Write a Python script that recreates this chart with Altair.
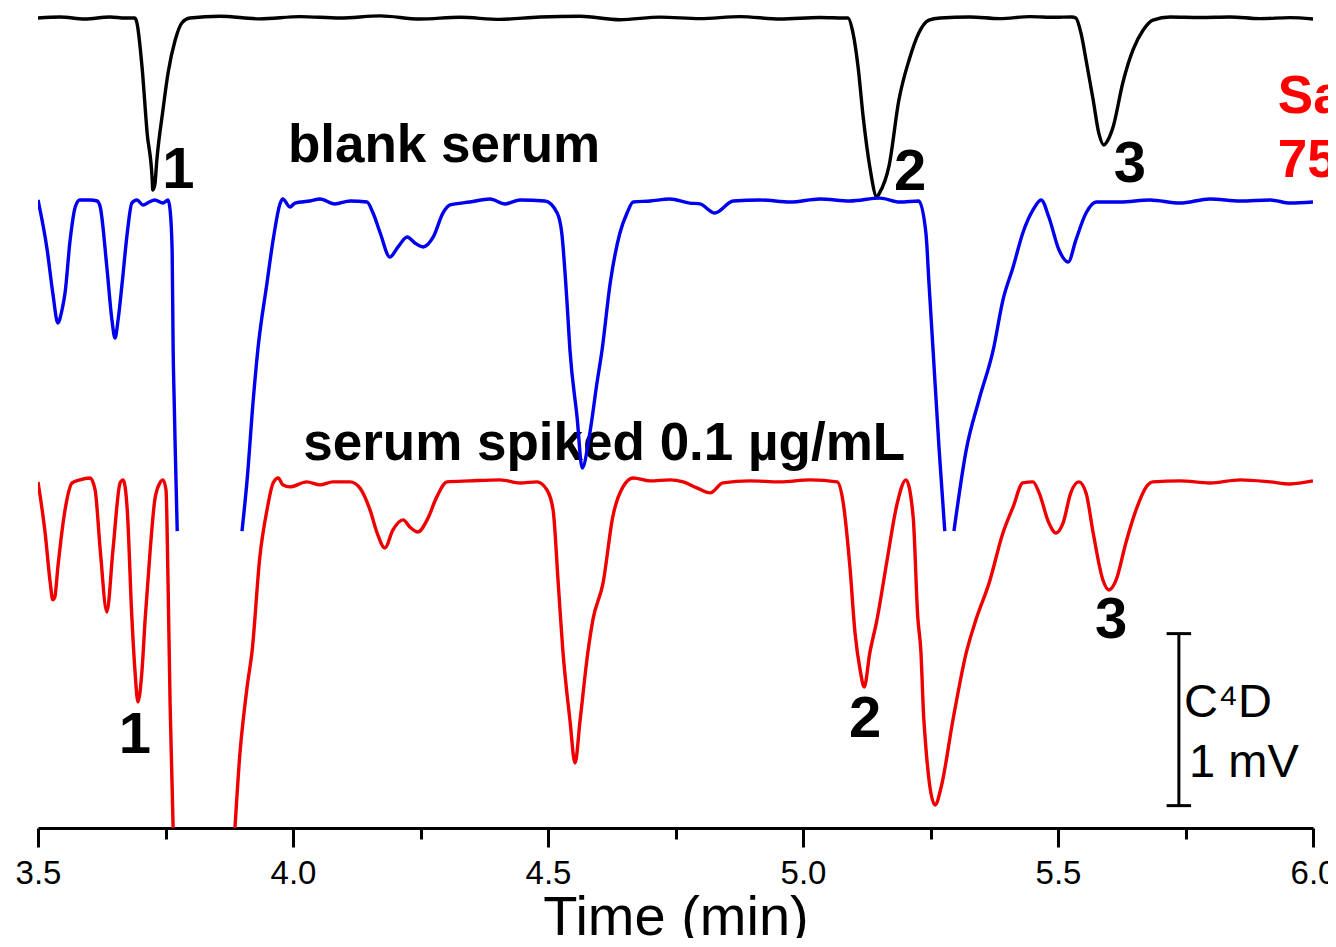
import altair as alt
import pandas as pd

# ---- trace data: (time in min, signal in mV relative to trace baseline) ----
black = [(3.500,0),(3.543,0.006),(3.592,-0.006),(3.641,0.006),(3.671,0),(3.690,0),(3.694,-0.029),
         (3.704,-0.285),(3.714,-0.669),(3.724,-0.942),(3.725,-1.000),(3.729,-0.971),(3.733,-0.826),
         (3.745,-0.535),(3.755,-0.320),(3.769,-0.128),(3.782,-0.029),(3.798,0),(3.857,0.010),
         (3.935,-0.005),(4.014,0.008),(4.092,0),(4.171,0.012),(4.249,-0.006),(4.327,0.004),
         (4.406,-0.008),(4.484,0.006),(4.563,0.010),(4.641,-0.010),(4.720,0.005),(4.798,-0.004),
         (4.876,0.008),(4.955,-0.006),(5.033,0.003),(5.082,0),(5.088,0),(5.098,-0.087),(5.108,-0.285),
         (5.118,-0.576),(5.131,-0.866),(5.145,-1.041),(5.149,-1.023),(5.169,-0.855),(5.188,-0.477),
         (5.208,-0.244),(5.227,-0.087),(5.247,-0.012),(5.269,0),(5.327,0.006),(5.386,-0.004),
         (5.445,0.008),(5.494,0.004),(5.527,0.006),(5.535,0),(5.545,-0.087),(5.555,-0.244),
         (5.569,-0.477),(5.580,-0.669),(5.590,-0.738),(5.598,-0.709),(5.608,-0.634),(5.627,-0.378),
         (5.647,-0.186),(5.667,-0.070),(5.686,-0.012),(5.720,0.006),(5.778,0.003),(5.837,0.006),
         (5.896,-0.004),(5.955,0.002),(6.000,-0.006)]

blue_a = [(3.500,0.006),(3.518,-0.285),(3.529,-0.535),(3.539,-0.709),(3.547,-0.634),(3.553,-0.535),
          (3.563,-0.227),(3.573,-0.035),(3.582,0.006),(3.602,0.006),(3.616,0),(3.622,-0.035),
          (3.635,-0.384),(3.645,-0.692),(3.651,-0.797),(3.657,-0.692),(3.665,-0.477),(3.675,-0.186),
          (3.684,-0.012),(3.694,0.006),(3.706,-0.023),(3.718,-0.006),(3.729,0.006),(3.745,-0.012),
          (3.755,0.006),(3.759,-0.052),(3.763,-0.285),(3.765,-0.866),(3.767,-1.157),(3.769,-1.430),
          (3.773,-1.919)]
blue_b = [(3.900,-1.919),(3.910,-1.622),(3.922,-1.157),(3.931,-0.866),(3.949,-0.477),(3.961,-0.227),
          (3.975,-0.012),(3.980,0.012),(3.994,-0.035),(4.004,-0.012),(4.033,0),(4.053,0.012),
          (4.082,-0.017),(4.112,0),(4.145,-0.006),(4.157,-0.070),(4.171,-0.186),(4.190,-0.326),
          (4.206,-0.267),(4.224,-0.209),(4.239,-0.244),(4.255,-0.267),(4.275,-0.209),(4.294,-0.070),
          (4.308,-0.023),(4.347,-0.006),(4.386,0.012),(4.416,-0.017),(4.445,0.006),(4.494,0),
          (4.518,-0.070),(4.527,-0.186),(4.537,-0.576),(4.543,-0.866),(4.557,-1.256),(4.567,-1.552),
          (4.582,-1.349),(4.596,-1.058),(4.606,-0.866),(4.622,-0.477),(4.641,-0.186),(4.655,-0.070),
          (4.667,-0.006),(4.700,0),(4.739,0.012),(4.778,-0.012),(4.798,-0.017),(4.827,-0.070),
          (4.863,0),(4.916,0.006),(4.975,-0.006),(5.033,0.012),(5.092,0),(5.151,0.017),(5.190,-0.006),
          (5.227,0),(5.241,-0.186),(5.247,-0.477),(5.255,-0.866),(5.267,-1.448),(5.278,-1.919)]
blue_c = [(5.296,-1.919),(5.320,-1.448),(5.345,-1.157),(5.373,-0.866),(5.392,-0.576),(5.412,-0.384),
          (5.431,-0.186),(5.451,-0.052),(5.467,0.006),(5.482,-0.093),(5.502,-0.285),(5.520,-0.355),
          (5.535,-0.227),(5.555,-0.070),(5.575,-0.006),(5.622,-0.006),(5.680,0.006),(5.739,-0.012),
          (5.798,0.012),(5.857,0),(5.916,0.006),(5.955,-0.012),(6.000,-0.006)]

red = [(3.500,0),(3.514,-0.297),(3.524,-0.587),(3.529,-0.686),(3.533,-0.669),(3.539,-0.494),
       (3.553,-0.163),(3.567,-0.006),(3.582,0.012),(3.602,0.023),(3.612,-0.047),(3.622,-0.395),
       (3.635,-0.756),(3.647,-0.395),(3.661,-0.006),(3.667,0.012),(3.675,-0.163),(3.684,-0.785),
       (3.690,-1.093),(3.696,-1.279),(3.704,-1.093),(3.710,-0.802),(3.720,-0.395),(3.729,-0.105),
       (3.739,-0.006),(3.745,0.012),(3.751,-0.047),(3.755,-0.587),(3.759,-1.285),(3.763,-1.773),
       (3.767,-2.198),(3.778,-2.430),(3.876,-2.430),(3.882,-2.198),(3.896,-1.576),(3.910,-1.192),
       (3.920,-0.977),(3.935,-0.436),(3.949,-0.163),(3.961,-0.006),(3.971,0.023),(3.980,-0.017),
       (3.994,-0.029),(4.027,0),(4.053,-0.017),(4.078,0),(4.112,0),(4.131,-0.035),(4.151,-0.163),
       (4.165,-0.297),(4.180,-0.384),(4.196,-0.279),(4.216,-0.221),(4.229,-0.262),(4.245,-0.291),
       (4.263,-0.221),(4.282,-0.087),(4.302,0),(4.347,0.006),(4.406,0.012),(4.445,-0.006),
       (4.478,0),(4.498,-0.047),(4.510,-0.163),(4.520,-0.587),(4.529,-0.977),(4.543,-1.384),
       (4.553,-1.634),(4.563,-1.384),(4.578,-0.994),(4.588,-0.802),(4.608,-0.587),(4.627,-0.203),
       (4.647,-0.029),(4.667,0.023),(4.700,0.006),(4.739,0.012),(4.765,0),(4.792,-0.035),
       (4.818,-0.064),(4.843,-0.006),(4.896,0.006),(4.955,0),(5.014,0.012),(5.067,0),(5.078,-0.105),
       (5.092,-0.494),(5.102,-0.878),(5.112,-1.093),(5.120,-1.192),(5.131,-0.994),(5.145,-0.802),
       (5.165,-0.453),(5.184,-0.134),(5.202,0.012),(5.216,-0.203),(5.225,-0.785),(5.231,-0.977),
       (5.237,-1.384),(5.259,-1.878),(5.271,-1.773),(5.294,-1.384),(5.320,-0.994),(5.339,-0.802),
       (5.365,-0.587),(5.392,-0.297),(5.412,-0.145),(5.431,-0.006),(5.451,0),(5.463,-0.064),
       (5.482,-0.238),(5.496,-0.297),(5.510,-0.238),(5.525,-0.064),(5.541,0),(5.555,-0.064),
       (5.569,-0.297),(5.588,-0.570),(5.600,-0.628),(5.614,-0.570),(5.633,-0.355),(5.653,-0.163),
       (5.673,-0.029),(5.686,0),(5.739,0.006),(5.798,-0.006),(5.857,0.012),(5.916,0),(5.955,-0.012),
       (6.000,0.006)]

# vertical offsets of the stacked traces (mV)
offsets = {"black": 4.709, "blue": 3.645, "red": 2.012}

# annotation texts (label, time, mV)
peak_labels = [("1", 3.775, 3.721), ("2", 5.210, 3.709), ("3", 5.641, 3.756),
               ("1", 3.690, 0.436), ("2", 5.122, 0.529), ("3", 5.604, 1.105)]
trace_labels = [("blank serum", 3.990, 3.872), ("serum spiked 0.1 µg/mL", 4.020, 2.140)]
red_labels = [("Sa", 5.931, 4.157), ("75", 5.931, 3.785)]
scale_labels = [("C\u2074D", 5.747, 0.645), ("1 mV", 5.757, 0.297)]
scale_bar_t = 5.737
scale_bar_mv = [0.13, 1.13]
scale_cap_t = [5.713, 5.761]

major_ticks = [3.5, 4.0, 4.5, 5.0, 5.5, 6.0]
minor_ticks = [3.75, 4.25, 4.75, 5.25, 5.75]

FONT = "Liberation Sans"
LW = 3.4


def frame(points, trace, seg):
    return pd.DataFrame({"t": [p[0] for p in points],
                         "v": [p[1] + offsets[trace] for p in points],
                         "seg": seg})


df_black = frame(black, "black", "a")
df_blue = pd.concat([frame(blue_a, "blue", "a"), frame(blue_b, "blue", "b"),
                     frame(blue_c, "blue", "c")])
df_red = frame(red, "red", "a")

xscale = alt.Scale(domain=[3.5, 6.0], nice=False, zero=False)
yscale = alt.Scale(domain=[0, 4.767], nice=False, zero=False)

major_axis = alt.Axis(
    orient="bottom", values=major_ticks, format=".1f",
    tickSize=19, tickWidth=3, tickColor="black", domainWidth=3, domainColor="black",
    labelFontSize=33, labelFont=FONT, labelColor="black", labelPadding=10,
    labelFlush=False, labelOverlap=False, grid=False,
    title="Time (min)", titleFont=FONT, titleFontSize=56, titleFontWeight="normal",
    titleColor="black", titleY=106, titleBaseline="alphabetic",
)
minor_axis = alt.Axis(
    orient="bottom", values=minor_ticks, tickSize=11, tickWidth=3, tickColor="black",
    domain=False, labels=False, grid=False, title=None,
)

Y = alt.Y("v:Q", scale=yscale, axis=None)


def line(df, color):
    return alt.Chart(df).mark_line(color=color, strokeWidth=LW, clip=True,
                                   interpolate="monotone").encode(
        x=alt.X("t:Q", scale=xscale, axis=None), y=Y, detail="seg:N")


def texts(items, size, color, align, bold=True):
    d = pd.DataFrame({"label": [i[0] for i in items], "t": [i[1] for i in items],
                      "v": [i[2] for i in items]})
    return alt.Chart(d).mark_text(
        font=FONT, fontSize=size, fontWeight="bold" if bold else "normal",
        color=color, align=align, baseline="alphabetic"
    ).encode(x=alt.X("t:Q", scale=xscale, axis=None), y=alt.Y("v:Q", scale=yscale, axis=None),
             text="label:N")


# scale bar
bar_df = pd.DataFrame({"t": [scale_bar_t, scale_cap_t[0], scale_cap_t[0]],
                       "t2": [scale_bar_t, scale_cap_t[1], scale_cap_t[1]],
                       "v": [scale_bar_mv[0], scale_bar_mv[0], scale_bar_mv[1]],
                       "v2": [scale_bar_mv[1], scale_bar_mv[0], scale_bar_mv[1]]})
bar = alt.Chart(bar_df).mark_rule(color="black", strokeWidth=3).encode(
    x=alt.X("t:Q", scale=xscale, axis=None), x2="t2:Q",
    y=alt.Y("v:Q", scale=yscale, axis=None), y2="v2:Q")

minor_layer = alt.Chart(df_black).mark_line(opacity=0).encode(
    x=alt.X("t:Q", scale=xscale, axis=minor_axis), y=Y)
major_layer = alt.Chart(df_black).mark_line(opacity=0).encode(
    x=alt.X("t:Q", scale=xscale, axis=major_axis), y=Y)

chart = alt.layer(
    minor_layer,
    major_layer,
    texts(trace_labels, 53, "black", "left"),
    texts(peak_labels, 58, "black", "center"),
    texts(red_labels, 53, "#ff0000", "left"),
    texts(scale_labels, 47, "black", "left", bold=False),
    bar,
    line(df_black, "black"),
    line(df_blue, "#0000ee"),
    line(df_red, "#ee0000"),
).resolve_axis(x="independent").properties(
    width=1275, height=820,
    padding={"left": 30, "top": 0, "right": 15, "bottom": 110},
    autosize=alt.AutoSizeParams(type="none"),
).configure_view(stroke=None)

chart.save("out.html", embed_options={"renderer": "svg", "actions": False})
